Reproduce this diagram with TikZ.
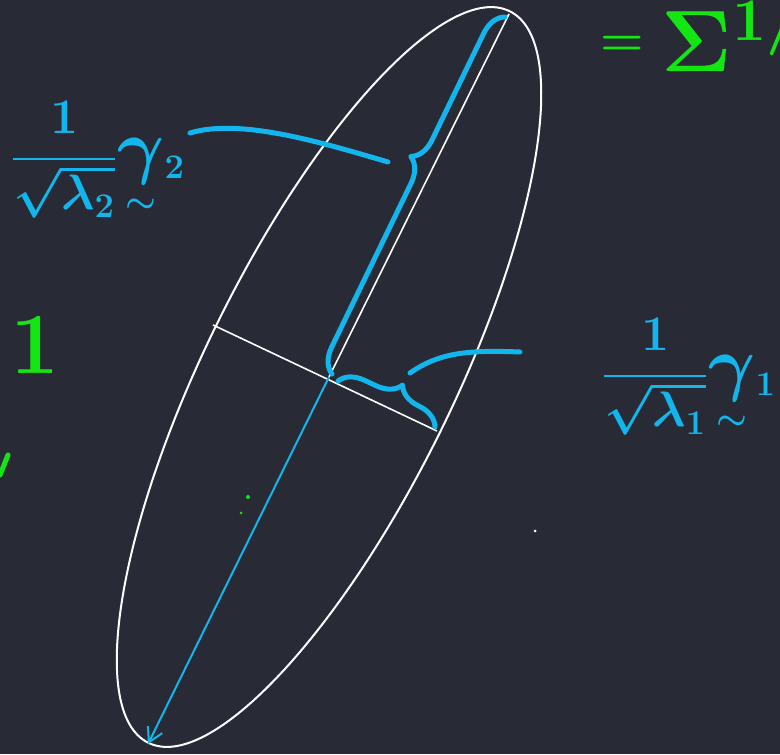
\documentclass[tikz,border=0pt]{standalone}
\usepackage{amsmath}
\usetikzlibrary{arrows.meta,decorations.pathreplacing}
\definecolor{board}{RGB}{40,43,54}
\definecolor{inkblue}{RGB}{18,182,236}
\definecolor{inkgreen}{RGB}{20,230,20}
\newcommand{\bigger}[1]{\scalebox{1.75}{#1}}
\newcommand{\vecgamma}{\mathord{\scalebox{1.45}{$\gamma$}\llap{\raisebox{-0.8em}{$\scriptstyle\sim$}\kern0.16em}}}
\begin{document}
\begin{tikzpicture}[
    x=0.5pt, y=0.5pt,
    axis/.style={draw=white, line width=0.8pt},
    ink/.style={draw=inkblue, line width=2.5pt, line cap=round, line join=round},
    bracket/.style={ink, decorate, decoration={brace, amplitude=12pt, aspect=#1}},
    bluetext/.style={text=inkblue, font=\fontsize{26}{30}\selectfont\boldmath, inner sep=0pt},
    greentext/.style={text=inkgreen, font=\fontsize{24}{28}\selectfont\boldmath, inner sep=0pt},
    >={Straight Barb[length=7pt, width=8pt]}
  ]
  \fill[board] (0,0) rectangle (780,754);
  \useasboundingbox (0,0) rectangle (780,754);
  \coordinate (c) at (329,377);
  \coordinate (top) at (509,740);
  \coordinate (bot) at (148,10);
  \coordinate (lft) at (213,429);
  \coordinate (rgt) at (437,323);
  \draw[white, line width=1pt, rotate around={63.7:(c)}] (c) ellipse [x radius=408, y radius=124];
  \draw[axis] (lft) -- (rgt);
  \draw[axis] (c) -- (top);
  \draw[->, draw=inkblue, line width=1pt] (c) -- (bot);
  \coordinate (b2s) at (332,380);
  \coordinate (b2e) at (505,737);
  \coordinate (b1s) at (338,373);
  \coordinate (b1e) at (435,327);
  \draw[bracket=0.58] (b2s) -- (b2e);
  \draw[bracket=0.56] (b1s) -- (b1e);
  \node[bluetext] (lab2) at (98,594) {$\displaystyle\frac{1}{\sqrt{\lambda_2}}\vecgamma{}_2$};
  \node[bluetext] (lab1) at (689,377) {$\displaystyle\frac{1}{\sqrt{\lambda_1}}\vecgamma{}_1$};
  \coordinate (k2a) at (388,592);
  \coordinate (k2b) at (190,621);
  \coordinate (k1a) at (410,381);
  \coordinate (k1b) at (520,402);
  \draw[ink] (k2a) .. controls (320,612) and (240,636) .. (k2b);
  \draw[ink] (k1a) .. controls (440,402) and (470,404) .. (k1b);
  \node[greentext, anchor=base west] (sig) at (600,682) {\raisebox{8pt}{$=$}\hspace{9pt}\bigger{$\Sigma^{1/2}$}};
  \node[greentext] (one) at (35,409) {\bigger{$1$}};
  \draw[inkgreen, line width=2.5pt, line cap=round] (0,279) -- (8,299);
  \fill[inkgreen] (248,257) circle (2) (241,241) circle (1.5);
  \fill[white] (535,223) circle (1.5);
\end{tikzpicture}
\end{document}
